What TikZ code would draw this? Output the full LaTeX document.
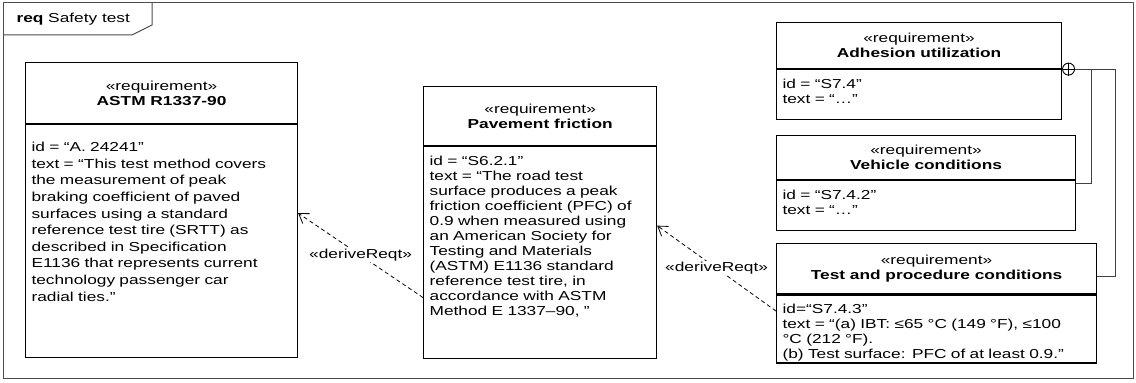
\documentclass[tikz,border=0pt]{standalone}
\usepackage{fontspec}
\setmainfont{Liberation Sans}[FakeStretch=1.33]
\usetikzlibrary{arrows.meta, positioning}

\begin{document}
\begin{tikzpicture}[
  x=1pt, y=1pt,
  font=\fontsize{13}{15}\selectfont,
  node distance=15pt,
  head/.style={rectangle, draw, line width=1.1pt, inner sep=0pt, align=center},
  body/.style={rectangle, draw, line width=1.1pt, inner xsep=6pt, inner ysep=0pt,
               text height=19pt, align=left},
  derive/.style={-{Straight Barb[length=9pt, width=12pt]}, dash pattern=on 4pt off 3pt, line width=0.8pt},
  own/.style={line width=0.9pt, black!75}
]
  \useasboundingbox (0,0) rectangle (1136,383);
  % diagram frame
  \draw[line width=1pt, black!70] (3,4) rectangle (1133,380);
  \draw[line width=1pt, black!70] (3,348) -- (132,348) -- (152,358) -- (152,380);
  \node[anchor=west] (title) at (13,364) {\textbf{req} Safety test};

  % requirements
  \node[head, minimum width=272pt, minimum height=61pt, anchor=north west] (astm) at (25,321)
    {«requirement»\\\textbf{ASTM R1337-90}};
  \node[body, text width=260pt, text height=27pt, text depth=206pt, below=0pt of astm,
        font=\fontsize{13}{16.6}\selectfont] (astmb)
    {id = “A. 24241”\\
     text = “This test method covers\\
     the measurement of peak\\
     braking coefficient of paved\\
     surfaces using a standard\\
     reference test tire (SRTT) as\\
     described in Specification\\
     E1136 that represents current\\
     technology passenger car\\
     radial ties.”};

  \node[head, minimum width=233pt, minimum height=59pt, below right=24pt and 125pt of astm.north east] (pav)
    {«requirement»\\\textbf{Pavement friction}};
  \node[body, text width=221pt, text depth=193pt, below=0pt of pav] (pavb)
    {id = “S6.2.1”\\
     text = “The road test\\
     surface produces a peak\\
     friction coefficient (PFC) of\\
     0.9 when measured using\\
     an American Society for\\
     Testing and Materials\\
     (ASTM) E1136 standard\\
     reference test tire, in\\
     accordance with ASTM\\
     Method E 1337–90, ”};

  \node[head, minimum width=285pt, minimum height=46pt, anchor=north west] (adh) at (776,361)
    {«requirement»\\\textbf{Adhesion utilization}};
  \node[body, text width=273pt, text depth=31pt, below=0pt of adh] (adhb)
    {id = “S7.4”\\
     text = “…”};

  \node[head, minimum width=299pt, minimum height=44pt, below=15pt of adhb.south west, anchor=north west] (veh)
    {«requirement»\\\textbf{Vehicle conditions}};
  \node[body, text width=287pt, text depth=31pt, below=0pt of veh] (vehb)
    {id = “S7.4.2”\\
     text = “…”};

  \node[head, minimum width=320pt, minimum height=50pt, below=12pt of vehb.south west, anchor=north west] (test)
    {«requirement»\\\textbf{Test and procedure conditions}};
  \node[body, text width=308pt, text height=18pt, text depth=50pt, below=0pt of test] (testb)
    {id=“S7.4.3”\\
     text = “(a) IBT: ≤65 °C (149 °F), ≤100\\
     °C (212 °F).\\
     (b) Test surface: PFC of at least 0.9.”};

  % containment
  \node[circle, draw, line width=0.9pt, minimum size=12pt, inner sep=0pt, right=0pt of adhb.north east] (plus) {};
  \draw[line width=0.9pt] (plus.north) -- (plus.south) (plus.west) -- (plus.east);
  \draw[own] (plus.east) -- ++(16,0) |- ([yshift=-3pt]vehb.north east);
  \draw[own] (plus.east) -- ++(40,0) |- ([yshift=-8pt]test.east);

  % derivations
  \draw[derive] ([yshift=-45pt]pavb.west) -- node[fill=white, inner sep=1pt] {«deriveReqt»} ([yshift=28pt]astmb.east);
  \draw[derive] ([yshift=18pt]testb.west) -- node[fill=white, inner sep=1pt] {«deriveReqt»} ([yshift=27pt]pavb.east);
\end{tikzpicture}
\end{document}
